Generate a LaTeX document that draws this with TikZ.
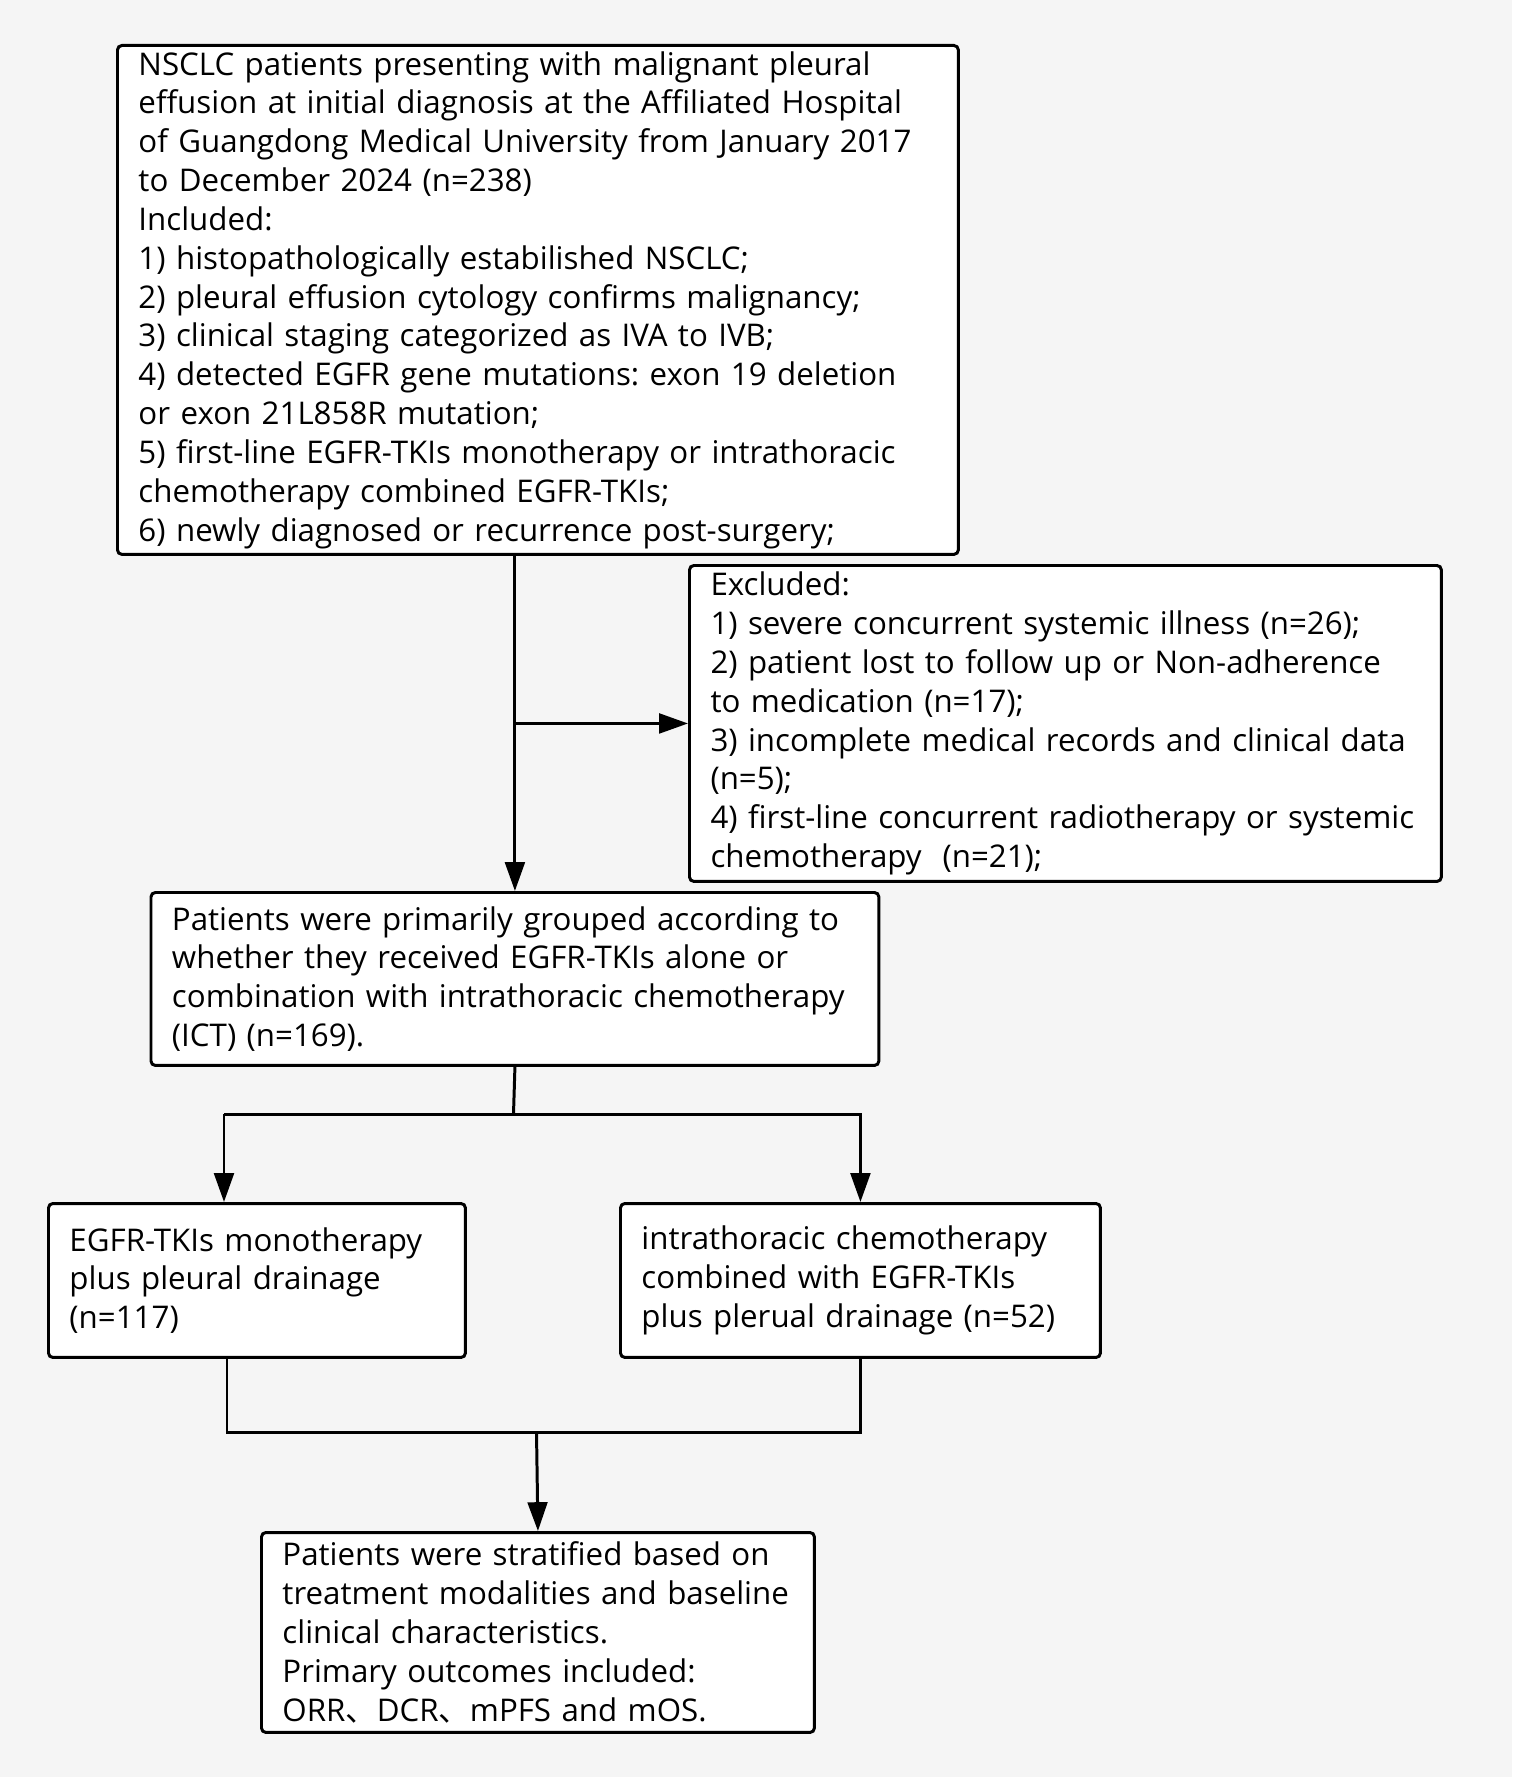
\documentclass[tikz,border=0pt]{standalone}
\usepackage{fontspec}
\setmainfont{Open Sans}
\newfontfamily\cjk{Noto Sans CJK SC}
\usetikzlibrary{arrows.meta,calc}
\frenchspacing
\definecolor{bgcol}{HTML}{F5F5F5}
\tikzset{
  flowbox/.style={draw, line width=1.7pt, rounded corners=2.5pt, fill=white, align=left,
    anchor=north west, inner xsep=0.42cm, inner ysep=0pt,
    font=\fontsize{17.8pt}{22.1pt}\selectfont},
  flowline/.style={line width=1.7pt},
  flowarr/.style={flowline, -{Triangle[length=16.4pt,width=11.2pt]}}
}
\begin{document}
\begin{tikzpicture}[x=0.02cm,y=-0.02cm]
\fill[bgcol] (0,0) rectangle (1512,1777);

\draw 	(116,44) node[flowbox,text width=15.98cm,minimum width=16.82cm,minimum height=10.18cm](incl){NSCLC patients presenting with malignant pleural\\
effusion at initial diagnosis at the Affiliated Hospital\\
of Guangdong Medical University from January 2017\\
to December 2024 (n=238)\\
Included:\\
1) histopathologically estabilished NSCLC;\\
2) pleural effusion cytology confirms malignancy;\\
3) clinical staging categorized as IVA to IVB;\\
4) detected EGFR gene mutations: exon 19 deletion\\
or exon 21L858R mutation;\\
5) first-line EGFR-TKIs monotherapy or intrathoracic\\
chemotherapy combined EGFR-TKIs;\\
6) newly diagnosed or recurrence post-surgery;};

\draw 	(688,564) node[flowbox,text width=14.2cm,minimum width=15.04cm,minimum height=6.32cm](excl){Excluded:\\
1) severe concurrent systemic illness (n=26);\\
2) patient lost to follow up or Non-adherence\\
to medication (n=17);\\
3) incomplete medical records and clinical data\\
(n=5);\\
4) first-line concurrent radiotherapy or systemic\\
chemotherapy\ \ (n=21);};

\draw 	(149.5,891) node[flowbox,text width=13.72cm,minimum width=14.56cm,minimum height=3.46cm](group){Patients were primarily grouped according to\\
whether they received EGFR-TKIs alone or\\
combination with intrathoracic chemotherapy\\
(ICT) (n=169).};

\draw 	(47,1202) node[flowbox,text width=7.5cm,minimum width=8.34cm,minimum height=3.08cm](mono){EGFR-TKIs monotherapy\\
plus pleural drainage\\
(n=117)}
  		(619,1202) node[flowbox,text width=8.76cm,minimum width=9.6cm,minimum height=3.08cm](comb){intrathoracic chemotherapy\\
combined with EGFR-TKIs\\
plus plerual drainage (n=52)};

\draw 	(260,1531) node[flowbox,text width=10.22cm,minimum width=11.06cm,minimum height=4cm](strat){Patients were stratified based on\\
treatment modalities and baseline\\
clinical characteristics.\\
Primary outcomes included:\\
ORR{\cjk 、}DCR{\cjk 、}mPFS and mOS.};

\coordinate (split) at (513.5,1114);
\coordinate (left) at (224,1114);
\coordinate (join) at (536.5,1432);
\coordinate (joinl) at (227,1432);

\draw[flowarr] (incl.south -| group.north) -- (group.north);
\draw[flowarr] (excl.west -| group.north) -- (excl.west);
\draw[flowline] (group.south) -- (split);
\draw[flowarr] (left) -- (left |- mono.north);
\draw[flowarr] (left) -| (comb.north);
\draw[flowline] (joinl |- mono.south) -- (joinl) -| (comb.south);
\draw[flowarr] (join) -- (strat.north);
\end{tikzpicture}
\end{document}
